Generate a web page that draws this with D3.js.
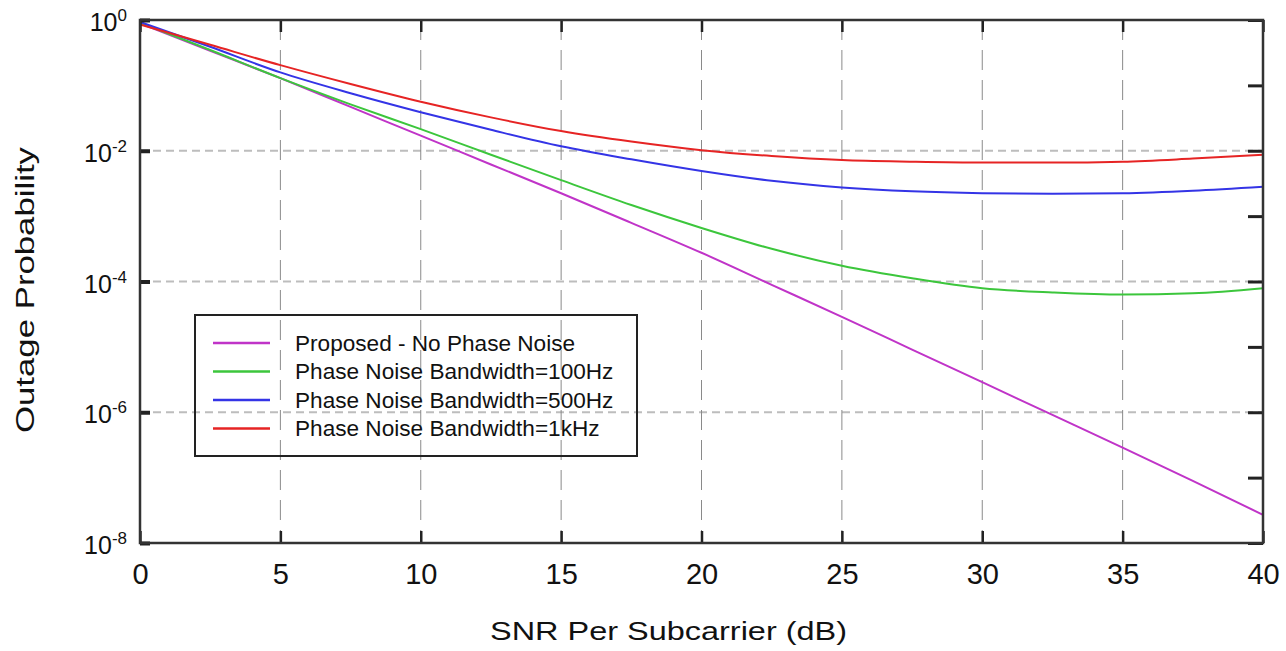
<!DOCTYPE html>
<html>
<head>
<meta charset="utf-8">
<script src="https://cdn.jsdelivr.net/npm/d3@7"></script>
<style>
  body { margin: 0; background: #fff; }
  svg { display: block; font-family: "Liberation Sans", Arial, sans-serif; }
</style>
</head>
<body>
<div class="svg-wrap"></div>
<script>
// values
let snr = [0, 2.5, 5, 7.5, 10, 12.5, 15, 17.5, 20, 22.5, 25, 27.5, 30, 32.5, 35, 37.5, 40];
let noPhaseNoise = [0.891, 0.339, 0.129, 0.0468, 0.0170, 6.17e-3, 2.24e-3, 7.9e-4, 2.75e-4, 8.9e-5, 2.88e-5, 9.1e-6, 2.88e-6, 9.1e-7, 2.88e-7, 8.9e-8, 2.7e-8];
let bw100Hz = [0.912, 0.347, 0.129, 0.0513, 0.0214, 8.7e-3, 3.55e-3, 1.48e-3, 6.6e-4, 3.16e-4, 1.74e-4, 1.12e-4, 7.9e-5, 6.8e-5, 6.3e-5, 6.6e-5, 7.9e-5];
let bw500Hz = [0.933, 0.389, 0.158, 0.0759, 0.0389, 0.0209, 0.0117, 7.4e-3, 4.9e-3, 3.47e-3, 2.75e-3, 2.4e-3, 2.24e-3, 2.19e-3, 2.24e-3, 2.45e-3, 2.82e-3];
let bw1kHz = [0.851, 0.417, 0.204, 0.105, 0.0562, 0.0324, 0.020, 0.0138, 0.0102, 8.3e-3, 7.2e-3, 6.8e-3, 6.6e-3, 6.6e-3, 6.8e-3, 7.6e-3, 8.7e-3];
let seriesNames = ["Proposed - No Phase Noise", "Phase Noise Bandwidth=100Hz", "Phase Noise Bandwidth=500Hz", "Phase Noise Bandwidth=1kHz"];
let xTicks = [0, 5, 10, 15, 20, 25, 30, 35, 40];
let yLabelExps = [0, -2, -4, -6, -8];
let yMinorExps = [0, -1, -2, -3, -4, -5, -6, -7, -8];

let colors = ["#c034c8", "#3cc63c", "#3434e6", "#e62424"];
let allSeries = [noPhaseNoise, bw100Hz, bw500Hz, bw1kHz];

var margin = { top: 20, right: 23, bottom: 108, left: 140 },
  W = 1286, H = 651,
  width = W - margin.left - margin.right,
  height = H - margin.top - margin.bottom;

let svg = d3.select(".svg-wrap")
  .append("svg")
  .attr("width", W)
  .attr("height", H);

let g = svg.append("g")
  .attr("transform", "translate(" + margin.left + "," + margin.top + ")");

var scaleX = d3.scaleLinear().domain([0, 40]).range([0, width]);
var scaleY = d3.scaleLog().domain([1, 1e-8]).range([0, height]);

// horizontal grid (light dashed)
g.append("g")
  .selectAll("line")
  .data([-2, -4, -6])
  .enter()
  .append("line")
  .attr("x1", 0)
  .attr("x2", width)
  .attr("y1", d => scaleY(Math.pow(10, d)))
  .attr("y2", d => scaleY(Math.pow(10, d)))
  .attr("stroke", "#bdbdbd")
  .attr("stroke-width", 2)
  .attr("stroke-dasharray", "8,5");

// vertical grid (dark dashed)
g.append("g")
  .selectAll("line")
  .data(xTicks.slice(1, -1))
  .enter()
  .append("line")
  .attr("x1", d => scaleX(d))
  .attr("x2", d => scaleX(d))
  .attr("y1", 0)
  .attr("y2", height)
  .attr("stroke", "#8a8a8a")
  .attr("stroke-width", 1)
  .attr("stroke-dasharray", "20,10");

// curves
let line = d3.line()
  .x((d, i) => scaleX(snr[i]))
  .y(d => scaleY(d))
  .curve(d3.curveMonotoneX);

g.selectAll(".curve")
  .data(allSeries)
  .enter()
  .append("path")
  .attr("class", "curve")
  .attr("d", d => line(d))
  .attr("fill", "none")
  .attr("stroke", (d, i) => colors[i])
  .attr("stroke-width", 2);

// x axis bottom with labels
let xAxis = d3.axisBottom(scaleX).tickValues(xTicks).tickSizeInner(-12).tickSizeOuter(0).tickPadding(20);
let xg = g.append("g")
  .attr("transform", `translate(0,${height})`)
  .call(xAxis);
xg.select(".domain").remove();
xg.selectAll("line").attr("stroke", "#222").attr("stroke-width", 2.5);
xg.selectAll("text").attr("font-size", 29).attr("fill", "#111")
  .style("font-family", "Liberation Sans, Arial, sans-serif");

// x axis top, ticks only
let xTop = g.append("g")
  .call(d3.axisTop(scaleX).tickValues(xTicks).tickSizeInner(-12).tickSizeOuter(0).tickFormat(""));
xTop.select(".domain").remove();
xTop.selectAll("line").attr("stroke", "#222").attr("stroke-width", 2.5);

// y axis left
let yLeft = g.append("g")
  .call(d3.axisLeft(scaleY).tickValues(yLabelExps.map(e => Math.pow(10, e))).tickSizeInner(-10).tickSizeOuter(0).tickFormat(""));
yLeft.select(".domain").remove();
yLeft.selectAll("line").attr("stroke", "#222").attr("stroke-width", 4);

// y axis right, every decade
let yRight = g.append("g")
  .attr("transform", `translate(${width},0)`)
  .call(d3.axisRight(scaleY).tickValues(yMinorExps.map(e => Math.pow(10, e))).tickSizeInner(-15).tickSizeOuter(0).tickFormat(""));
yRight.select(".domain").remove();
yRight.selectAll("line").attr("stroke", "#222").attr("stroke-width", 3);

// y tick labels with superscripts
let ylab = g.append("g")
  .selectAll("text")
  .data(yLabelExps)
  .enter()
  .append("text")
  .attr("x", -13)
  .attr("y", d => scaleY(Math.pow(10, d)) + 11)
  .attr("text-anchor", "end")
  .attr("fill", "#111")
  .attr("font-size", 25);
ylab.append("tspan").text("10");
ylab.append("tspan")
  .attr("dy", -10)
  .attr("font-size", 17)
  .text(d => d);

// frame
g.append("rect")
  .attr("width", width)
  .attr("height", height)
  .attr("fill", "none")
  .attr("stroke", "#333")
  .attr("stroke-width", 2.5);

// axis titles
svg.append("text")
  .attr("x", 490)
  .attr("y", 640)
  .attr("font-size", 26)
  .attr("fill", "#111")
  .attr("textLength", 357)
  .attr("lengthAdjust", "spacingAndGlyphs")
  .text("SNR Per Subcarrier (dB)");

svg.append("text")
  .attr("transform", "translate(34,433) rotate(-90)")
  .attr("font-size", 26)
  .attr("fill", "#111")
  .attr("textLength", 286)
  .attr("lengthAdjust", "spacingAndGlyphs")
  .text("Outage Probability");

// legend
let legend = svg.append("g").attr("id", "legend");
legend.append("rect")
  .attr("x", 195)
  .attr("y", 315)
  .attr("width", 442)
  .attr("height", 141)
  .attr("fill", "none")
  .attr("stroke", "#222")
  .attr("stroke-width", 2);

let items = legend.selectAll(".legend-label")
  .data(seriesNames)
  .enter()
  .append("g")
  .attr("class", "legend-label")
  .attr("transform", (d, i) => "translate(0," + (343 + i * 28.5) + ")");

items.append("line")
  .attr("x1", 213)
  .attr("x2", 270)
  .attr("stroke", (d, i) => colors[i])
  .attr("stroke-width", 2.5);

items.append("text")
  .attr("x", 295)
  .attr("y", 7.5)
  .attr("font-size", 22.6)
  .attr("fill", "#111")
  .text(d => d);
</script>
</body>
</html>
